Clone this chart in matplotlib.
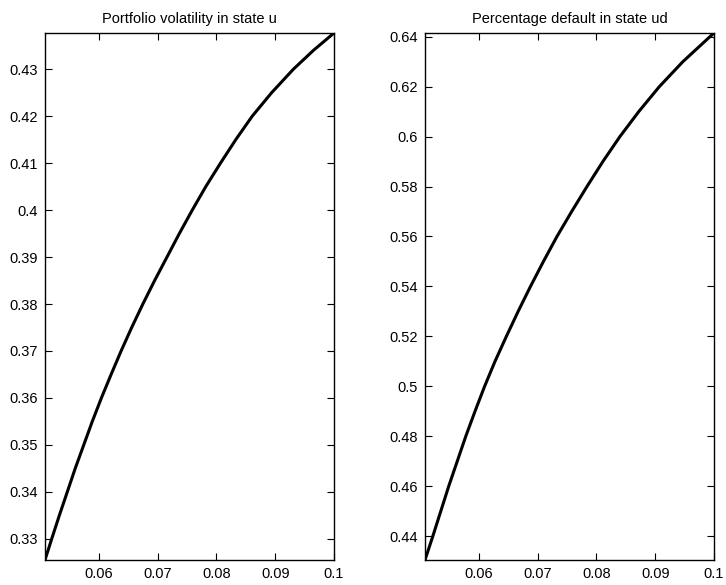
import matplotlib
matplotlib.use("Agg")
import matplotlib.pyplot as plt

plt.rcParams['font.family'] = ['Liberation Sans', 'DejaVu Sans']

# Left panel: portfolio volatility in state u
vol_x = [0.05086, 0.0520, 0.0533, 0.05465, 0.0560, 0.05745, 0.0589, 0.06045,
         0.0621, 0.0638, 0.0656, 0.0675, 0.0695, 0.0716, 0.0737, 0.0759,
         0.0782, 0.0807, 0.0833, 0.0861, 0.0894, 0.0931, 0.0965, 0.1]
vol_y = [0.3255, 0.33, 0.335, 0.34, 0.345, 0.35, 0.355, 0.36,
         0.365, 0.37, 0.375, 0.38, 0.385, 0.39, 0.395, 0.40,
         0.405, 0.41, 0.415, 0.42, 0.425, 0.43, 0.434, 0.4377]

# Right panel: percentage default in state ud
pd_x = [0.05086, 0.0522, 0.05355, 0.0549, 0.05635, 0.0578, 0.05937, 0.0610,
        0.06277, 0.0647, 0.0667, 0.0688, 0.0710, 0.0733, 0.0758, 0.0784,
        0.0811, 0.0840, 0.0872, 0.0907, 0.0947, 0.0993, 0.1]
pd_y = [0.4304, 0.44, 0.45, 0.46, 0.47, 0.48, 0.49, 0.50,
        0.51, 0.52, 0.53, 0.54, 0.55, 0.56, 0.57, 0.58,
        0.59, 0.60, 0.61, 0.62, 0.63, 0.64, 0.6415]

x_ticks = [0.06, 0.07, 0.08, 0.09, 0.1]
x_labels = ['0.06', '0.07', '0.08', '0.09', '0.1']
vol_ticks = [0.33, 0.34, 0.35, 0.36, 0.37, 0.38, 0.39, 0.40, 0.41, 0.42, 0.43]
vol_labels = ['0.33', '0.34', '0.35', '0.36', '0.37', '0.38', '0.39', '0.4',
              '0.41', '0.42', '0.43']
pd_ticks = [0.44, 0.46, 0.48, 0.50, 0.52, 0.54, 0.56, 0.58, 0.60, 0.62, 0.64]
pd_labels = ['0.44', '0.46', '0.48', '0.5', '0.52', '0.54', '0.56', '0.58',
             '0.6', '0.62', '0.64']


def _panel(ax, x, y, title, yticks, ylabels):
    ax.plot(x, y, color='black', linewidth=2.2, solid_joinstyle='round')
    ax.set_xlim(x[0], x[-1])
    ax.set_ylim(y[0], y[-1])
    ax.set_xticks(x_ticks, x_labels)
    ax.set_yticks(yticks, ylabels)
    ax.set_title(title, fontsize=10.5, pad=7)
    ax.tick_params(direction='in', length=5, width=0.8, top=True, right=True,
                   labelsize=10.5, pad=5)
    for sp in ax.spines.values():
        sp.set_linewidth(1.0)


fig = plt.figure(figsize=(7.26, 5.85), dpi=100)
ax1 = fig.add_axes([45 / 726, 25 / 585, 289 / 726, 527 / 585])
ax2 = fig.add_axes([425 / 726, 25 / 585, 289 / 726, 527 / 585])

_panel(ax1, vol_x, vol_y, 'Portfolio volatility in state u', vol_ticks, vol_labels)
_panel(ax2, pd_x, pd_y, 'Percentage default in state ud', pd_ticks, pd_labels)

fig.savefig('out.png', dpi=100)
